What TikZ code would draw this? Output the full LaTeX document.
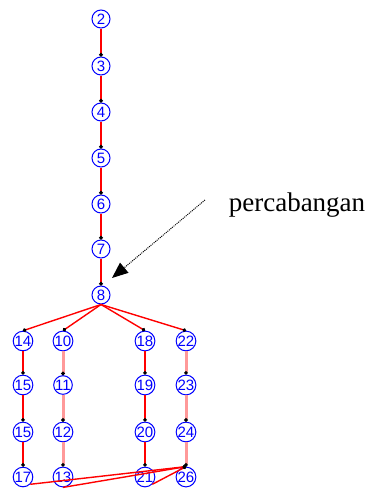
\documentclass[tikz,border=0pt]{standalone}
\usepackage{fontspec}
\setmainfont{Liberation Serif}
\setsansfont{Liberation Sans}
\usetikzlibrary{arrows.meta}

\tikzset{
  vert/.style={circle, draw=blue, line width=1pt, fill=white, minimum size=18pt, inner sep=0pt,
               text=blue, font=\sffamily\fontsize{15}{15}\selectfont},
  link/.style={draw=red, line width=1.4pt, -{Circle[color=black,fill=black,length=3.5pt]}},
  palelink/.style={draw=red!40, line width=3pt, -{Circle[color=black,fill=black,length=3.5pt]}}
}

\begin{document}
\begin{tikzpicture}[x=1pt,y=-1pt]
                \useasboundingbox (0,0) rectangle (371,490);
                \node[vert] (2) at (101,19) {2};
                \node[vert] (3) at (101,66) {3};
                \node[vert] (4) at (101,112) {4};
                \node[vert] (5) at (101,158) {5};
                \node[vert] (6) at (101,204) {6};
                \node[vert] (7) at (101,249) {7};
                \node[vert] (8) at (101,295) {8};

                \node[vert] (14) at (23,341) {14};
                \node[vert] (15) at (23,385) {15};
                \node[vert] (16) at (23,432) {15};
                \node[vert] (17) at (23,477) {17};

                \node[vert] (10) at (63,341) {10};
                \node[vert] (11) at (63,385) {11};
                \node[vert] (12) at (63,432) {12};
                \node[vert] (13) at (63,477) {13};

                \node[vert] (18) at (145,341) {18};
                \node[vert] (19) at (145,385) {19};
                \node[vert] (20) at (145,432) {20};
                \node[vert] (21) at (145,477) {21};

                \node[vert] (22) at (186,341) {22};
                \node[vert] (23) at (186,385) {23};
                \node[vert] (24) at (186,432) {24};
                \node[vert] (26) at (186,477) {26};

                \draw[link] (2.south) -- (3.north);
                \draw[link] (3.south) -- (4.north);
                \draw[link] (4.south) -- (5.north);
                \draw[link] (5.south) -- (6.north);
                \draw[link] (6.south) -- (7.north);
                \draw[link] (7.south) -- (8.north);

                \draw[link] (8.south) -- (14.north);
                \draw[link] (8.south) -- (10.north);
                \draw[link] (8.south) -- (18.north);
                \draw[link] (8.south) -- (22.north);

                \draw[link] (14.south) -- (15.north);
                \draw[link] (15.south) -- (16.north);
                \draw[link] (16.south) -- (17.north);
                \draw[palelink] (10.south) -- (11.north);
                \draw[palelink] (11.south) -- (12.north);
                \draw[palelink] (12.south) -- (13.north);
                \draw[link] (18.south) -- (19.north);
                \draw[link] (19.south) -- (20.north);
                \draw[link] (20.south) -- (21.north);
                \draw[palelink] (22.south) -- (23.north);
                \draw[palelink] (23.south) -- (24.north);
                \draw[palelink] (24.south) -- (26.north);

                % bottom crossings
                \draw[link] (17.south east) -- (26.north);
                \draw[link] (13.south) -- (26.north);
                \draw[link] (21.south east) -- (26.north);

                % label with pointer
                \node[font=\fontsize{27}{27}\selectfont] (lbl) at (297,205) {percabangan};
                \coordinate (tail) at (205,200);
                \coordinate (head) at (112,278);
                \draw[densely dotted, line width=1pt, -{Triangle[length=16pt,width=13pt]}] (tail) -- (head);
        
        \end{tikzpicture}
\end{document}
